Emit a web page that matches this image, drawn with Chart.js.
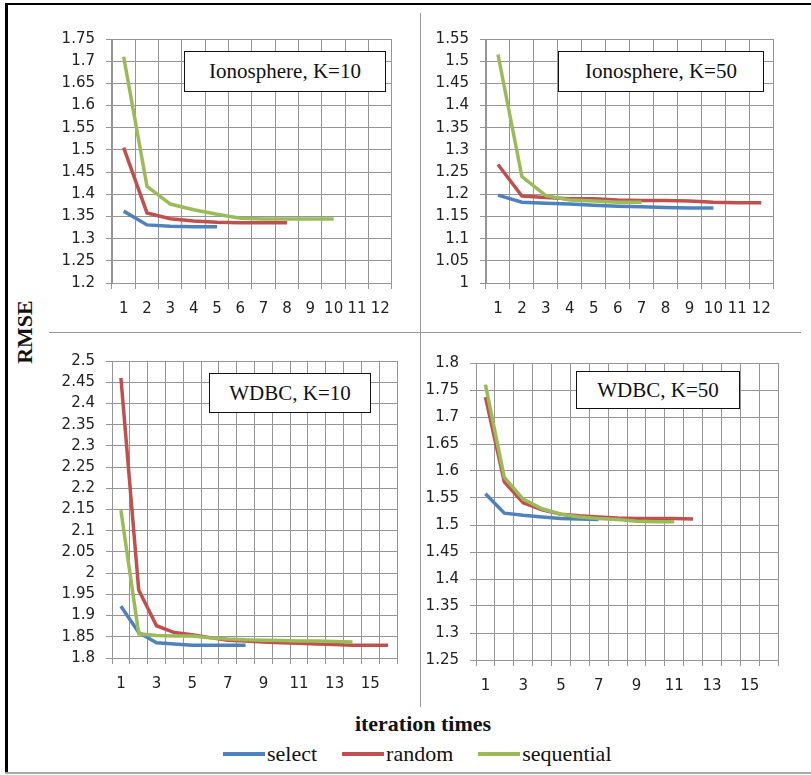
<!DOCTYPE html>
<html>
<head>
<meta charset="utf-8">
<script src="https://cdn.jsdelivr.net/npm/chart.js@4"></script>
<style>
  body { margin: 0; background: #fff; }
  #wrap { position: relative; width: 811px; height: 775px; overflow: hidden; background: #fff; }
  .frame-top { position: absolute; left: 5px; top: 3px; width: 806px; height: 2px; background: #000; }
  .frame-left { position: absolute; left: 5px; top: 3px; width: 3px; height: 771px; background: #000; }
  .frame-bottom { position: absolute; left: 5px; top: 772px; width: 806px; height: 2px; background: #aaa; }
  .div-h { position: absolute; left: 49px; top: 332px; width: 752px; height: 1px; background: #999; }
  .div-v { position: absolute; left: 420px; top: 13px; width: 1px; height: 694px; background: #999; }
  canvas.panel { position: absolute; }
  .box { position: absolute; background: #fff; border: 1.5px solid #111; box-sizing: border-box;
         font-family: "Liberation Serif", "DejaVu Serif", serif; font-size: 21px; color: #111;
         display: flex; align-items: center; justify-content: center; z-index: 2; }
  .ytitle { position: absolute; left: 25px; top: 332px; transform: translate(-50%, -50%) rotate(-90deg);
            font-family: "Liberation Serif", serif; font-weight: bold; font-size: 22px; color: #111; white-space: nowrap; }
  .xtitle { position: absolute; left: 423px; top: 724px; transform: translate(-50%, -50%);
            font-family: "Liberation Serif", serif; font-weight: bold; font-size: 22px; color: #111; white-space: nowrap; }
  .legend { position: absolute; top: 741px; left: 223px; display: flex; align-items: center;
            font-family: "Liberation Serif", serif; font-size: 22px; color: #111; white-space: nowrap; }
  .legend .sw { display: inline-block; width: 42px; height: 4px; margin-right: 2px; }
  .legend .item { display: flex; align-items: center; margin-right: 25px; }
</style>
</head>
<body>
<div id="wrap">
  <div class="frame-top"></div>
  <div class="frame-left"></div>
  <div class="frame-bottom"></div>
  <div class="div-h"></div>
  <div class="div-v"></div>

  <canvas class="panel" id="c1"></canvas>
  <canvas class="panel" id="c2"></canvas>
  <canvas class="panel" id="c3"></canvas>
  <canvas class="panel" id="c4"></canvas>

  <div class="box" style="left:184px;top:51px;width:202px;height:41px;">Ionosphere, K=10</div>
  <div class="box" style="left:558px;top:51px;width:206px;height:41px;">Ionosphere, K=50</div>
  <div class="box" style="left:209px;top:373px;width:162px;height:40px;">WDBC, K=10</div>
  <div class="box" style="left:576px;top:371px;width:164px;height:38px;">WDBC, K=50</div>

  <div class="ytitle">RMSE</div>
  <div class="xtitle">iteration times</div>
  <div class="legend">
    <div class="item"><span class="sw" style="background:#4f81bd"></span>select</div>
    <div class="item"><span class="sw" style="background:#c0504d"></span>random</div>
    <div class="item"><span class="sw" style="background:#9bbb59"></span>sequential</div>
  </div>
</div>

<script>
// ---- data ----
var seriesNames = ['select', 'random', 'sequential'];
var seriesColors = ['#4f81bd', '#c0504d', '#9bbb59'];

var iterLabels12 = ['1', '2', '3', '4', '5', '6', '7', '8', '9', '10', '11', '12'];
var iterLabels16 = ['1', '2', '3', '4', '5', '6', '7', '8', '9', '10', '11', '12', '13', '14', '15', '16'];

// Ionosphere, K=10
var iono10Select = [1.362, 1.331, 1.328, 1.327, 1.327];
var iono10Random = [1.505, 1.358, 1.345, 1.340, 1.337, 1.336, 1.336, 1.336];
var iono10Seq = [1.710, 1.418, 1.378, 1.365, 1.355, 1.346, 1.344, 1.344, 1.344, 1.344];

// Ionosphere, K=50
var iono50Select = [1.198, 1.182, 1.180, 1.178, 1.175, 1.173, 1.172, 1.170, 1.169, 1.169];
var iono50Random = [1.267, 1.196, 1.193, 1.190, 1.190, 1.187, 1.186, 1.186, 1.185, 1.182, 1.181, 1.181];
var iono50Seq = [1.515, 1.240, 1.197, 1.187, 1.185, 1.182, 1.182];

// WDBC, K=10
var wdbc10Select = [1.922, 1.860, 1.836, 1.833, 1.830, 1.830, 1.830, 1.830];
var wdbc10Random = [2.460, 1.960, 1.876, 1.860, 1.855, 1.848, 1.842, 1.840, 1.838, 1.836, 1.835, 1.833, 1.832, 1.830, 1.830, 1.830];
var wdbc10Seq = [2.148, 1.857, 1.853, 1.852, 1.852, 1.848, 1.845, 1.843, 1.842, 1.841, 1.840, 1.840, 1.839, 1.838];

// WDBC, K=50
var wdbc50Select = [1.558, 1.522, 1.518, 1.515, 1.512, 1.511, 1.510];
var wdbc50Random = [1.737, 1.580, 1.541, 1.528, 1.520, 1.517, 1.515, 1.513, 1.512, 1.512, 1.512, 1.511];
var wdbc50Seq = [1.760, 1.588, 1.548, 1.530, 1.520, 1.515, 1.512, 1.510, 1.507, 1.506, 1.506];

// y axis ranges
var iono10Y = { min: 1.2, max: 1.75 };
var iono50Y = { min: 1.0, max: 1.55 };
var wdbc10Y = { min: 1.8, max: 2.5 };
var wdbc50Y = { min: 1.25, max: 1.8 };

// ---- drawing ----
var Y_W = 62, X_H = 44, PAD_T = 14, PAD_R = 4;
var gridColor = '#959595';
var tickFont = { family: '"DejaVu Sans", Verdana, sans-serif', size: 15 };

function makePanel(id, area, labels, yRange, data, everyOther) {
    var cv = document.getElementById(id);
    var w = (area.right - area.left) + Y_W + PAD_R;
    var h = (area.bottom - area.top) + PAD_T + X_H;
    cv.width = w; cv.height = h;
    cv.style.left = (area.left - Y_W) + 'px';
    cv.style.top = (area.top - PAD_T) + 'px';

    var datasets = data.map(function(vals, i) {
        return {
            label: seriesNames[i],
            data: vals,
            borderColor: seriesColors[i],
            backgroundColor: seriesColors[i],
            borderWidth: 3.5,
            pointRadius: 0,
            tension: 0,
            fill: false,
            order: 3 - i
        };
    });

    return new Chart(cv, {
        type: 'line',
        data: { labels: labels, datasets: datasets },
        options: {
            responsive: false,
            animation: false,
            layout: { padding: { top: PAD_T, right: PAD_R, left: 0, bottom: 0 } },
            plugins: { legend: { display: false }, tooltip: { enabled: false } },
            scales: {
                x: {
                    type: 'category',
                    offset: true,
                    grid: { offset: true, color: gridColor, lineWidth: 1, tickLength: 6, drawTicks: true },
                    border: { color: gridColor },
                    ticks: {
                        autoSkip: false, maxRotation: 0, padding: 11,
                        color: '#222', font: tickFont,
                        callback: function(v, i) {
                            if (everyOther && i % 2 === 1) return '';
                            return this.getLabelForValue(v);
                        }
                    },
                    afterFit: function(s) { s.height = X_H; }
                },
                y: {
                    min: yRange.min, max: yRange.max,
                    grid: { color: gridColor, lineWidth: 1, tickLength: 6 },
                    border: { color: gridColor },
                    ticks: {
                        stepSize: 0.05, padding: 11, color: '#222', font: tickFont,
                        callback: function(v) { return String(Number(v.toFixed(2))); }
                    },
                    afterFit: function(s) { s.width = Y_W; }
                }
            }
        }
    });
}

makePanel('c1', { left: 112, right: 397, top: 33, bottom: 283 }, iterLabels12, iono10Y,
    [iono10Select, iono10Random, iono10Seq], false);
makePanel('c2', { left: 486, right: 778, top: 33, bottom: 283 }, iterLabels12, iono50Y,
    [iono50Select, iono50Random, iono50Seq], false);
makePanel('c3', { left: 112, right: 397, top: 355, bottom: 658 }, iterLabels16, wdbc10Y,
    [wdbc10Select, wdbc10Random, wdbc10Seq], true);
makePanel('c4', { left: 476, right: 778, top: 357, bottom: 660 }, iterLabels16, wdbc50Y,
    [wdbc50Select, wdbc50Random, wdbc50Seq], true);
</script>
</body>
</html>
